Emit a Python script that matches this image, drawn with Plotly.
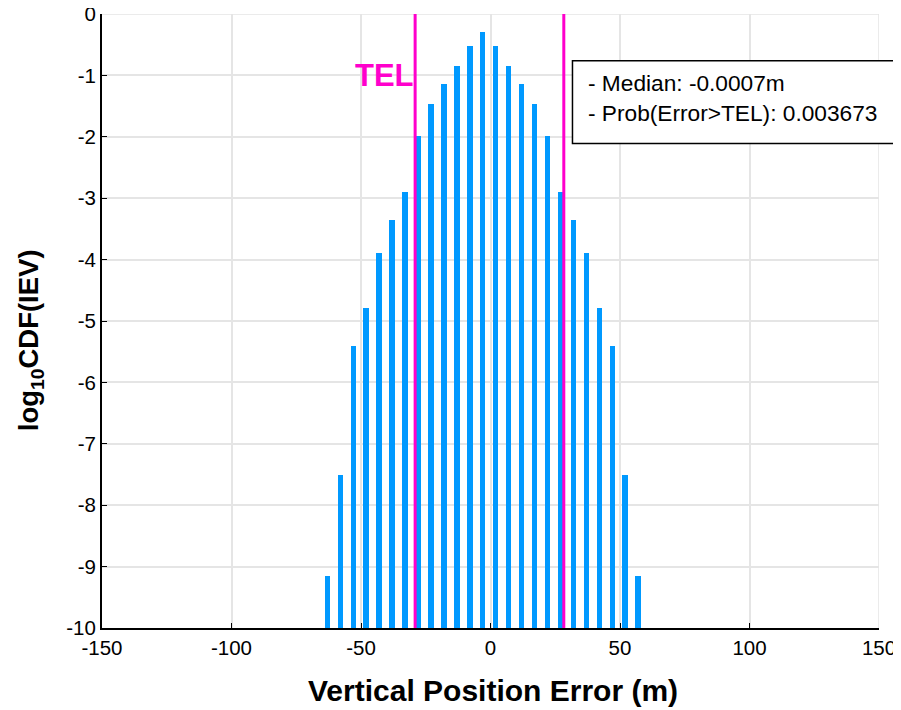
import plotly.graph_objects as go

# ---- data ----
bin_centers = [-63, -58, -53, -48, -43, -38, -33, -28, -23, -18, -13, -8, -3,
               2, 7, 12, 17, 22, 27, 32, 37, 42, 47, 52, 57]
log_cdf = [-9.16, -7.51, -5.41, -4.79, -3.89, -3.36, -2.90, -1.99, -1.47, -1.14, -0.85, -0.52, -0.29,
           -0.52, -0.85, -1.14, -1.47, -1.99, -2.90, -3.36, -3.89, -4.79, -5.41, -7.51, -9.16]
tel_lines = [-29.1, 28.3]
x_ticks = [-150, -100, -50, 0, 50, 100, 150]
y_ticks = [0, -1, -2, -3, -4, -5, -6, -7, -8, -9, -10]
info_lines = ["- Median: -0.0007m", "- Prob(Error>TEL): 0.003673"]
x_title = "<b>Vertical Position Error (m)</b>"
y_title = "<b>log<sub>10</sub>CDF(IEV)</b>"

FONT = "Liberation Sans, Arial, sans-serif"
BAR_COLOR = "#0099FF"
TEL_COLOR = "#FF00CC"
GRID = "#e5e5e5"
Y_MIN, Y_MAX = -10, 0
X_MIN, X_MAX = -150, 150

fig = go.Figure()
fig.add_trace(go.Bar(
    x=bin_centers,
    y=[v - Y_MIN for v in log_cdf],
    base=[Y_MIN] * len(log_cdf),
    width=2.1,
    marker=dict(color=BAR_COLOR, line=dict(width=0)),
    showlegend=False,
))
for xv in tel_lines:
    fig.add_trace(go.Scatter(
        x=[xv, xv], y=[Y_MIN, Y_MAX], mode="lines",
        line=dict(color=TEL_COLOR, width=3), showlegend=False,
    ))

# edge grid lines (top and right)
fig.add_shape(type="line", xref="x", yref="y", x0=X_MIN, x1=X_MAX, y0=Y_MAX, y1=Y_MAX,
              line=dict(color=GRID, width=1.5), layer="below")
fig.add_shape(type="line", xref="x", yref="y", x0=X_MAX, x1=X_MAX, y0=Y_MIN, y1=Y_MAX,
              line=dict(color=GRID, width=1.5), layer="below")

fig.add_annotation(x=tel_lines[0], y=-1.0, xref="x", yref="y", text="<b>TEL</b>",
                   showarrow=False, xanchor="right", yanchor="middle", xshift=1,
                   font=dict(family=FONT, size=31, color=TEL_COLOR))

# info box
fig.add_shape(type="rect", xref="paper", yref="paper", x0=0.6055, x1=1.06, y0=0.789, y1=0.924,
              line=dict(color="black", width=1.5), fillcolor="white", layer="above")
fig.add_annotation(xref="paper", yref="paper", x=0.623, y=0.888, text=info_lines[0],
                   showarrow=False, xanchor="left", yanchor="middle",
                   font=dict(family=FONT, size=22.7, color="black"))
fig.add_annotation(xref="paper", yref="paper", x=0.623, y=0.839, text=info_lines[1],
                   showarrow=False, xanchor="left", yanchor="middle",
                   font=dict(family=FONT, size=22.7, color="black"))

# axis titles
fig.add_annotation(xref="paper", yref="paper", x=0.503, y=-0.1015, text=x_title,
                   showarrow=False, xanchor="center", yanchor="middle",
                   font=dict(family=FONT, size=30, color="black"))
fig.add_annotation(xref="paper", yref="paper", x=-0.0924, y=0.469, text=y_title,
                   showarrow=False, xanchor="center", yanchor="middle", textangle=-90,
                   font=dict(family=FONT, size=27.5, color="black"))

fig.update_layout(
    width=893, height=702,
    margin=dict(l=94, r=22, t=6, b=82, autoexpand=False),
    plot_bgcolor="white", paper_bgcolor="white",
    font=dict(family=FONT, color="black"),
    bargap=0,
    xaxis=dict(
        range=[X_MIN, X_MAX], tickvals=x_ticks, ticktext=[str(v) for v in x_ticks],
        showgrid=True, gridcolor=GRID, gridwidth=1.5,
        showline=True, linecolor="black", linewidth=2,
        ticks="inside", ticklen=5, tickcolor="black", tickwidth=1,
        tickfont=dict(size=20.5, family=FONT), zeroline=False, automargin=False,
        ticklabeloverflow="allow",
    ),
    yaxis=dict(
        range=[Y_MIN, Y_MAX], tickvals=y_ticks, ticktext=[str(v) for v in y_ticks],
        showgrid=True, gridcolor=GRID, gridwidth=1.5,
        showline=True, linecolor="black", linewidth=2,
        ticks="inside", ticklen=5, tickcolor="black", tickwidth=1,
        tickfont=dict(size=20.5, family=FONT), zeroline=False, automargin=False,
        ticklabeloverflow="allow",
    ),
)

fig.write_html("out.html")
